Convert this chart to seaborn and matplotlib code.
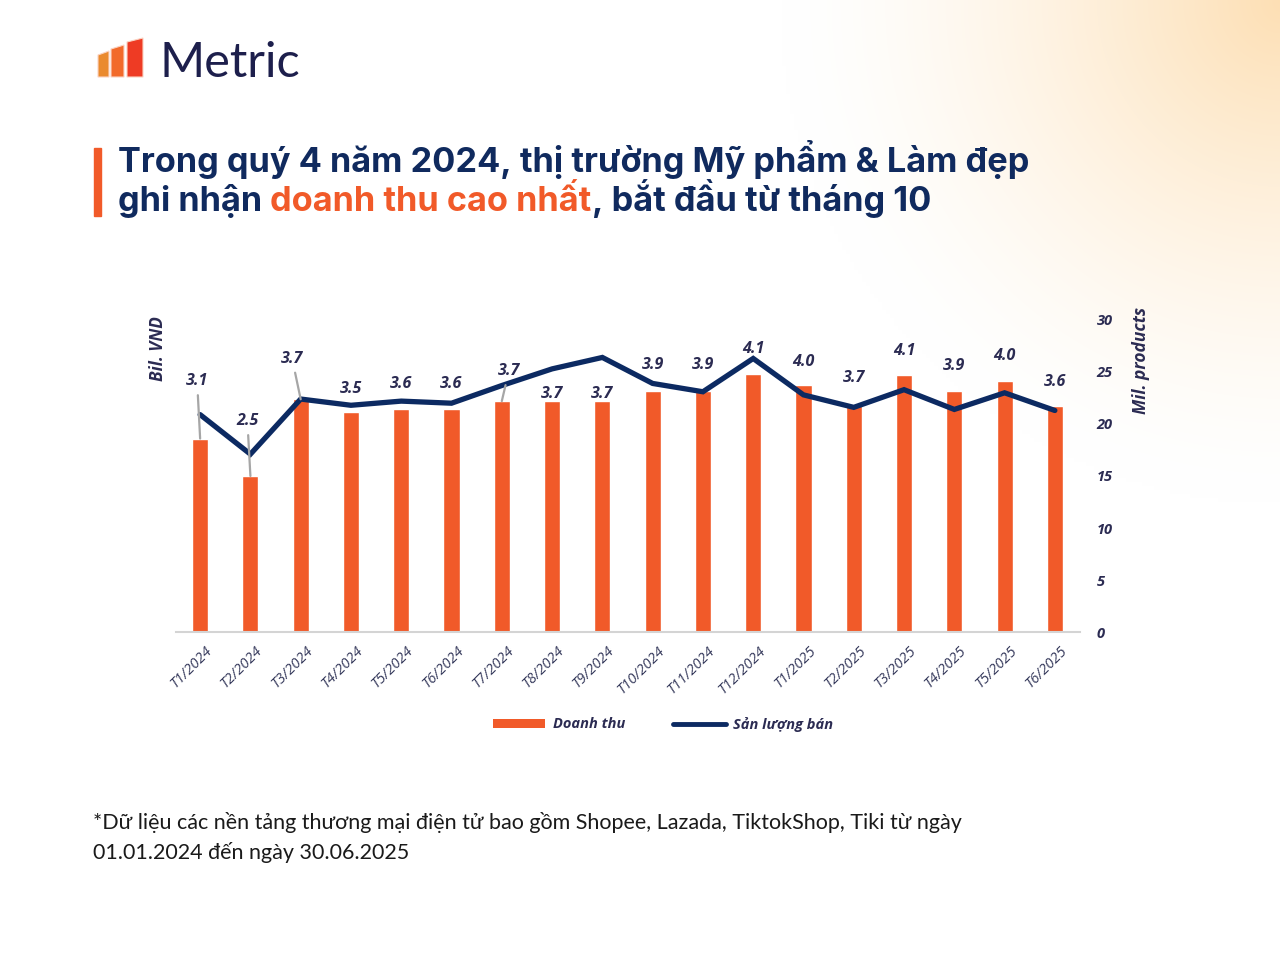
import numpy as np
import pandas as pd
import matplotlib
matplotlib.use("Agg")
import matplotlib.pyplot as plt
import seaborn as sns
from matplotlib.patches import Rectangle, Polygon, Patch
from matplotlib.lines import Line2D
from matplotlib.transforms import ScaledTranslation

# ---------------- data ----------------
months = ["T1/2024", "T2/2024", "T3/2024", "T4/2024", "T5/2024", "T6/2024",
          "T7/2024", "T8/2024", "T9/2024", "T10/2024", "T11/2024", "T12/2024",
          "T1/2025", "T2/2025", "T3/2025", "T4/2025", "T5/2025", "T6/2025"]
revenue = [3.10, 2.50, 3.73, 3.52, 3.58, 3.58, 3.70, 3.70, 3.70, 3.87, 3.87, 4.13,
           3.96, 3.66, 4.12, 3.86, 4.02, 3.62]          # Bil. VND (left axis)
sales = [20.9, 17.1, 22.4, 21.8, 22.2, 22.0, 23.7, 25.3, 26.4, 23.9, 23.1, 26.3,
         22.8, 21.6, 23.3, 21.4, 23.0, 21.3]            # Mil. products (right axis)
right_ticks = [0, 5, 10, 15, 20, 25, 30]

# label layout (left-axis units) and leader lines
label_y = [4.02, 3.38, 4.38, 3.90, 3.98, 3.98, 4.18, 3.82, 3.82, 4.28, 4.28, 4.53,
           4.32, 4.07, 4.50, 4.27, 4.42, 4.00]
label_dx = [-0.06, -0.06, -0.17, 0, 0, 0, 0.14, 0, 0, 0, 0, 0, 0, 0, 0, 0, 0, 0]
leader = [True, True, True, False, False, False, True] + [False] * 11

ORANGE = "#f15a29"
NAVY = "#0c2a62"
TXT = "#2b2b52"
TITLE = "#102a5e"

sns.set_style("white")
plt.rcParams["font.family"] = ["Open Sans", "DejaVu Sans"]

W, H = 1280, 960
fig = plt.figure(figsize=(W / 100, H / 100), dpi=100)
fig.patch.set_facecolor("white")

def fx(px):
    return px / W

def fy(py):
    return 1 - py / H

# ---------------- background gradient ----------------
bg = fig.add_axes([0, 0, 1, 1], zorder=-10)
yy, xx = np.mgrid[0:H // 4, 0:W // 4] * 4
d = np.sqrt((xx - W) ** 2 + (yy - 0) ** 2 * 1.0)
a = np.clip(1 - d / 500.0, 0, 1) ** 1.5
img = np.ones((H // 4, W // 4, 4))
c = np.array([0xfd, 0xdf, 0xb4]) / 255.0
for k in range(3):
    img[..., k] = 1 - a * (1 - c[k])
img[..., 3] = 1
bg.imshow(img, extent=[0, W, H, 0], aspect="auto", interpolation="bilinear")
bg.set_xlim(0, W)
bg.set_ylim(H, 0)
bg.axis("off")

# ---------------- logo ----------------
logo_bars = [((98, 109), 51, "#ea8a2e"), ((111, 124), 45, "#f26a2a"), ((127, 143), 38, "#ee3b24")]
for (x0, x1), top, col in logo_bars:
    poly = Polygon([(fx(x0), fy(77)), (fx(x1), fy(77)), (fx(x1), fy(top)),
                    (fx(x0), fy(top + 4))], closed=True, transform=fig.transFigure,
                   facecolor=col, edgecolor="#fbd3c2", linewidth=0.8)
    fig.add_artist(poly)
fig.text(fx(160), fy(77), "Metric", fontsize=35, family=["Lato", "DejaVu Sans"],
         color="#1d1f4c", va="baseline", ha="left")

# ---------------- title ----------------
fig.add_artist(Rectangle((fx(94), fy(216)), fx(7), (216 - 148) / H,
                         transform=fig.transFigure, color=ORANGE))
tfont = dict(fontsize=24.7, fontweight="bold", family=["Inter", "DejaVu Sans"])
fig.text(fx(118), fy(172), "Trong quý 4 năm 2024, thị trường Mỹ phẩm & Làm đẹp",
         color=TITLE, va="baseline", ha="left", **tfont)
t1 = fig.text(fx(118), fy(211), "ghi nhận ", color=TITLE, va="baseline", ha="left", **tfont)
t2 = fig.text(0, 0, "doanh thu cao nhất", color=ORANGE, va="baseline", ha="left", **tfont)
t3 = fig.text(0, 0, ", bắt đầu từ tháng 10", color=TITLE, va="baseline", ha="left", **tfont)

# ---------------- chart ----------------
ax = fig.add_axes([fx(176), fy(632), fx(1080) - fx(176), (632 - 320) / H])
ax.set_facecolor("none")
df = pd.DataFrame({"month": months, "revenue": revenue, "sales": sales})
sns.barplot(data=df, x="month", y="revenue", ax=ax, color=ORANGE, width=0.32,
            saturation=1, order=months)
ax.set_ylim(0, 5)
ax.set_xlim(-0.48, 17.5)
ax.set_yticks([])
ax.set_xlabel("")
ax.set_ylabel("")

ax2 = ax.twinx()
sns.lineplot(x=np.arange(len(months)), y=sales, ax=ax2, color=NAVY, linewidth=3.8,
             solid_joinstyle="miter", solid_capstyle="round")
ax2.set_ylim(0, 30)
ax.set_xlim(-0.48, 17.5)
ax2.set_yticks(right_ticks)
ax2.set_yticklabels([str(t) for t in right_ticks])
ax2.tick_params(axis="y", length=0, pad=12, labelsize=10.5, labelcolor=TXT)
for lbl in ax2.get_yticklabels():
    lbl.set_fontweight("bold")
    lbl.set_fontstyle("italic")
ax2.set_ylabel("")
ax2.set_xlabel("")

for s in ["top", "left", "right"]:
    ax.spines[s].set_visible(False)
for s in ax2.spines.values():
    s.set_visible(False)
ax.spines["bottom"].set_color("#d4d4d4")
ax.spines["bottom"].set_linewidth(1.5)

ax.set_xticks(range(len(months)))
ax.set_xticklabels(months, rotation=45, ha="right", va="top", rotation_mode="anchor")
ax.tick_params(axis="x", length=0, pad=8, labelsize=10.5, labelcolor="#363a5c")
off = ScaledTranslation(5 / 100, 0, fig.dpi_scale_trans)
for lbl in ax.get_xticklabels():
    lbl.set_fontstyle("italic")
    lbl.set_transform(lbl.get_transform() + off)

# value labels
for i, v in enumerate(revenue):
    kw = dict(xy=(i, v), xycoords=ax.transData,
              xytext=(i + label_dx[i], label_y[i]), textcoords=ax.transData,
              ha="center", va="center", fontsize=11.5, fontweight="bold",
              fontstyle="italic", color=TXT, zorder=6)
    if leader[i]:
        kw["arrowprops"] = dict(arrowstyle="-", color="#a6a6a6", lw=1.6,
                                shrinkA=2, shrinkB=0)
    ax2.annotate(f"{v:.1f}", **kw)

# axis titles
fig.text(fx(158), fy(349), "Bil. VND", rotation=90, ha="center", va="center",
         fontsize=12.3, fontweight="bold", fontstyle="italic", color=TXT)
fig.text(fx(1141), fy(360), "Mil. products", rotation=90, ha="center", va="center",
         fontsize=12.5, fontweight="bold", fontstyle="italic", color=TXT)

# legend
handles = [Patch(facecolor=ORANGE, edgecolor="none"),
           Line2D([0], [0], color=NAVY, lw=3.5, solid_capstyle="round")]
leg = fig.legend(handles, ["Doanh thu", "Sản lượng bán"], loc="center",
                 bbox_to_anchor=(fx(663), fy(724)), ncol=2, frameon=False,
                 handlelength=3.6, handleheight=0.55, columnspacing=3.3,
                 handletextpad=0.5,
                 prop=dict(size=10.5, weight="bold", style="italic"))
for t in leg.get_texts():
    t.set_color(TXT)

# footnote
ffont = dict(fontsize=15.5, family=["Lato", "DejaVu Sans"], color="#1a1a1a",
             va="baseline", ha="left")
fig.text(fx(93), fy(829), "*Dữ liệu các nền tảng thương mại điện tử bao gồm Shopee, "
         "Lazada, TiktokShop, Tiki từ ngày", **ffont)
fig.text(fx(93), fy(859), "01.01.2024 đến ngày 30.06.2025", **ffont)

# chain title second line pieces
r = fig.canvas.get_renderer()
bb1 = t1.get_window_extent(r)
t2.set_position((bb1.x1 / W, fy(211)))
bb2 = t2.get_window_extent(r)
t3.set_position((bb2.x1 / W, fy(211)))

fig.savefig("out.png", dpi=100)
